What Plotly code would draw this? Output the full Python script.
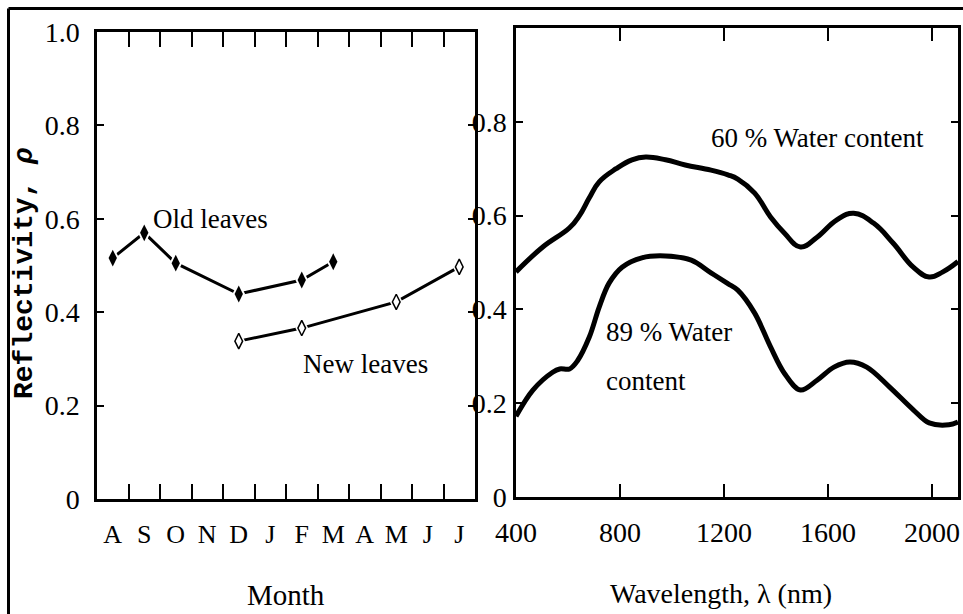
import plotly.graph_objects as go

W, H = 963, 614

# ---- Left panel data: reflectivity by month ----
months = ["A", "S", "O", "N", "D", "J", "F", "M", "A", "M", "J", "J"]
month_pos = list(range(12))
old_pos = [0, 1, 2, 4, 6, 7]
old_vals = [0.516, 0.570, 0.505, 0.439, 0.469, 0.508]
new_pos = [4, 6, 9, 11]
new_vals = [0.338, 0.366, 0.422, 0.497]

# ---- Right panel data: reflectivity by wavelength ----
wl_60 = [400, 503, 606, 644, 682, 720, 785, 846, 899, 975, 1051, 1150, 1215, 1253,
         1318, 1379, 1432, 1494, 1558, 1634, 1699, 1775, 1851, 1928, 1989, 2042, 2100]
r_60 = [0.480, 0.533, 0.574, 0.600, 0.638, 0.672, 0.700, 0.719, 0.725, 0.719, 0.708,
        0.697, 0.687, 0.678, 0.648, 0.597, 0.563, 0.533, 0.554, 0.591, 0.605, 0.584,
        0.541, 0.490, 0.469, 0.480, 0.502]
wl_89 = [400, 465, 541, 568, 606, 636, 682, 720, 758, 808, 884, 975, 1074, 1150, 1215,
         1253, 1318, 1379, 1432, 1494, 1558, 1623, 1684, 1749, 1836, 1928, 1989, 2065, 2100]
r_89 = [0.172, 0.228, 0.266, 0.273, 0.273, 0.290, 0.341, 0.405, 0.456, 0.490, 0.510,
        0.514, 0.505, 0.478, 0.455, 0.441, 0.392, 0.320, 0.264, 0.228, 0.249, 0.277,
        0.288, 0.277, 0.235, 0.186, 0.158, 0.154, 0.160]

left_yticks = [0, 0.2, 0.4, 0.6, 0.8, 1.0]
left_yticktext = ["0", "0.2", "0.4", "0.6", "0.8", "1.0"]
right_yticks = [0, 0.2, 0.4, 0.6, 0.8]
right_yticktext = ["0", "0.2", "0.4", "0.6", "0.8"]
wl_ticks = [400, 800, 1200, 1600, 2000]
month_bounds = [i + 0.5 for i in range(11)]

SERIF = "Liberation Serif, Times New Roman, serif"
MONO = "Liberation Mono, Courier New, monospace"


def px(x):
    return x / W


def py(y):
    return 1 - y / H


fig = go.Figure()

# Old leaves
fig.add_trace(go.Scatter(x=old_pos, y=old_vals, mode="lines",
                         line=dict(color="black", width=3), xaxis="x", yaxis="y",
                         showlegend=False, hoverinfo="skip"))
fig.add_trace(go.Scatter(x=old_pos, y=old_vals, mode="markers",
                         marker=dict(symbol="diamond-tall", size=18, color="white",
                                     line=dict(width=0)),
                         xaxis="x", yaxis="y", showlegend=False, hoverinfo="skip"))
fig.add_trace(go.Scatter(x=old_pos, y=old_vals, mode="markers",
                         marker=dict(symbol="diamond-tall", size=12, color="black",
                                     line=dict(width=0)),
                         xaxis="x", yaxis="y", showlegend=False))
# New leaves
fig.add_trace(go.Scatter(x=new_pos, y=new_vals, mode="lines",
                         line=dict(color="black", width=3), xaxis="x", yaxis="y",
                         showlegend=False, hoverinfo="skip"))
fig.add_trace(go.Scatter(x=new_pos, y=new_vals, mode="markers",
                         marker=dict(symbol="diamond-tall", size=18, color="white",
                                     line=dict(width=0)),
                         xaxis="x", yaxis="y", showlegend=False, hoverinfo="skip"))
fig.add_trace(go.Scatter(x=new_pos, y=new_vals, mode="markers",
                         marker=dict(symbol="diamond-tall", size=11, color="white",
                                     line=dict(width=1.5, color="black")),
                         xaxis="x", yaxis="y", showlegend=False))

# Water content curves
fig.add_trace(go.Scatter(x=wl_60, y=r_60, mode="lines",
                         line=dict(color="black", width=5, shape="spline", smoothing=1.2),
                         xaxis="x2", yaxis="y2", showlegend=False))
fig.add_trace(go.Scatter(x=wl_89, y=r_89, mode="lines",
                         line=dict(color="black", width=5, shape="spline", smoothing=1.0),
                         xaxis="x2", yaxis="y2", showlegend=False))

common_axis = dict(showgrid=False, zeroline=False, showline=True, linecolor="black",
                   linewidth=2.5, mirror="ticks", tickcolor="black", tickwidth=2,
                   automargin=False, tickfont=dict(family=SERIF, size=28, color="black"))

fig.update_layout(
    width=W, height=H,
    margin=dict(l=0, r=0, t=0, b=0),
    paper_bgcolor="white", plot_bgcolor="white",
    template="none",
    xaxis=dict(common_axis, domain=[px(97), px(475)], range=[-0.5, 11.5],
               tickmode="array", tickvals=month_pos, ticktext=months, ticks="",
               ticklabelstandoff=10,
               tickfont=dict(family=SERIF, size=26, color="black"),
               minor=dict(tickmode="array", tickvals=month_bounds, ticks="inside",
                          ticklen=15, tickwidth=2, tickcolor="black"),
               anchor="y"),
    yaxis=dict(common_axis, domain=[py(499), py(32)], range=[0, 1.0],
               tickmode="array", tickvals=left_yticks, ticktext=left_yticktext,
               ticks="inside", ticklen=7, ticklabelstandoff=9, anchor="x"),
    xaxis2=dict(common_axis, domain=[px(516), px(958)], range=[400, 2100],
                tickmode="array", tickvals=wl_ticks, ticks="inside", ticklen=13,
                ticklabelstandoff=9, anchor="y2"),
    yaxis2=dict(common_axis, domain=[py(497), py(28)], range=[0, 1.0],
                tickmode="array", tickvals=right_yticks, ticktext=right_yticktext,
                ticks="inside", ticklen=7, ticklabelstandoff=1, anchor="x2"),
)

ann_font = dict(family=SERIF, size=27, color="black")
annotations = [
    dict(text="Old leaves", x=px(210), y=py(219)),
    dict(text="New leaves", x=px(365), y=py(364)),
    dict(text="60 % Water content", x=px(817), y=py(138)),
    dict(text="89 % Water", x=px(604), y=py(332), xanchor="left"),
    dict(text="content", x=px(604), y=py(381), xanchor="left"),
    dict(text="Month", x=px(286), y=py(595), font=dict(family=SERIF, size=29, color="black")),
    dict(text="Wavelength, λ (nm)", x=px(721), y=py(593),
         font=dict(family=SERIF, size=28, color="black")),
    dict(text="<b>Reflectivity, <i>ρ</i></b>", x=px(24), y=py(273), textangle=-90,
         font=dict(family=MONO, size=28, color="black")),
]
for a in annotations:
    base = dict(xref="paper", yref="paper", showarrow=False, xanchor="center",
                yanchor="middle", font=ann_font)
    base.update(a)
    fig.add_annotation(**base)

# Outer frame lines (left and top)
fig.add_shape(type="line", xref="paper", yref="paper", x0=px(8.5), x1=px(8.5),
              y0=0, y1=py(8.5), line=dict(color="black", width=3))
fig.add_shape(type="line", xref="paper", yref="paper", x0=px(8.5), x1=1,
              y0=py(8.5), y1=py(8.5), line=dict(color="black", width=3))

fig.write_html("out.html")
